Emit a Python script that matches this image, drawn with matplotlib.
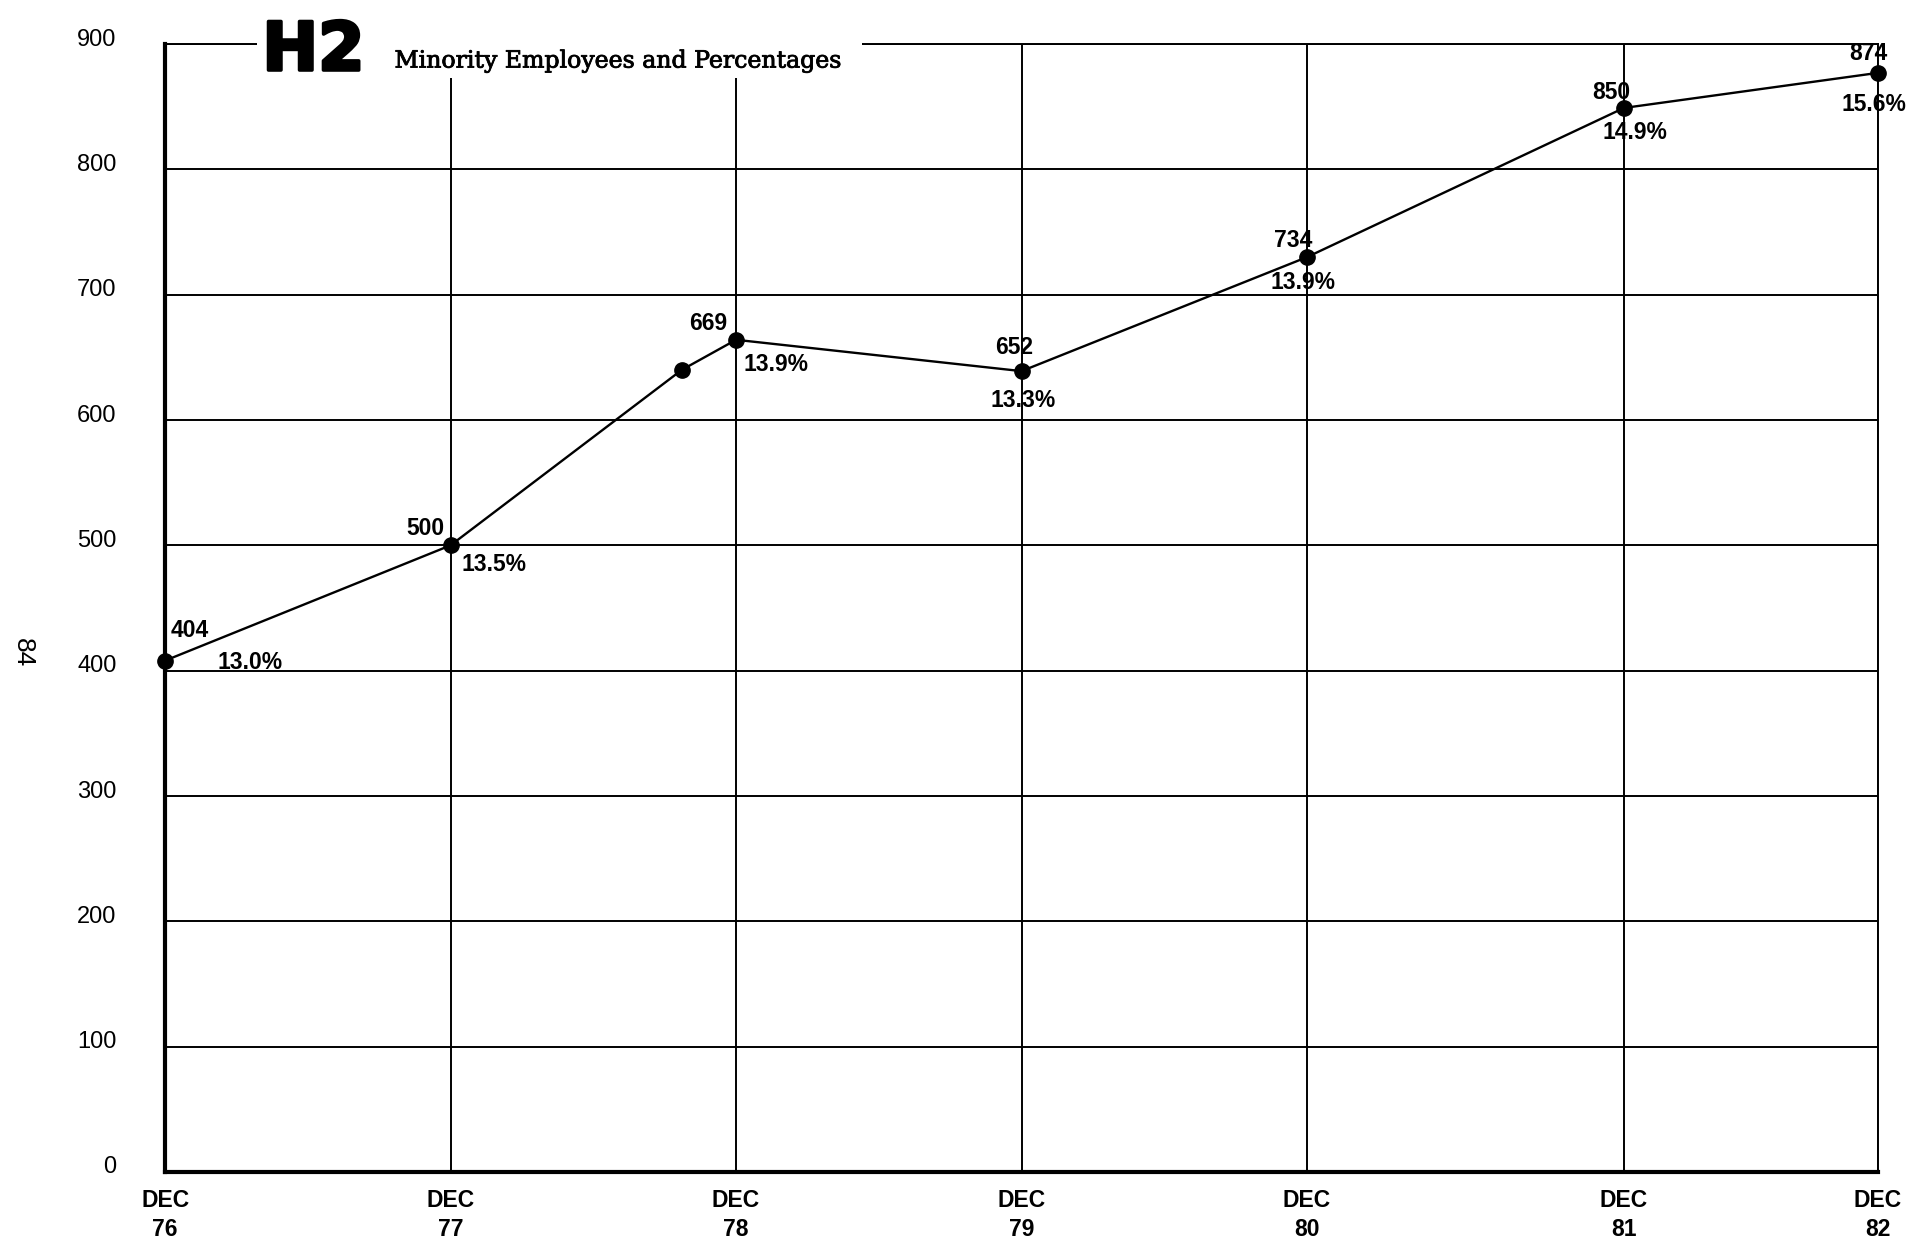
import matplotlib
matplotlib.use("Agg")
import matplotlib.pyplot as plt
import matplotlib.transforms as mtransforms
import matplotlib.patheffects as pe
from matplotlib.patches import Rectangle

# data
tick_pos = [0, 1, 2, 3, 4, 5.11, 6]
tick_labels = ["DEC\n76", "DEC\n77", "DEC\n78", "DEC\n79", "DEC\n80", "DEC\n81", "DEC\n82"]

# heights as drawn on the grid (the printed numbers are in num_labels)
point_x = [0, 1, 1.81, 2, 3, 4, 5.11, 6]
employees = [408, 500, 640, 664, 639, 730, 849, 877]
num_labels = ["404", "500", None, "669", "652", "734", "850", "874"]
pct_labels = ["13.0%", "13.5%", None, "13.9%", "13.3%", "13.9%", "14.9%", "15.6%"]

# label offsets in points (count label, percent label)
num_off = [(18, 22), (-18, 12), None, (-20, 12), (-5, 17), (-10, 12), (-9, 11), (-7, 14)]
pct_off = [(61, -1), (31, -14), None, (29, -18), (1, -21), (-3, -18), (8, -18), (-3, -23)]

fig = plt.figure(figsize=(19.15, 12.51), dpi=100)
ax = fig.add_axes([0.0862, 0.0632, 0.8945, 0.9016])

ax.plot(point_x, employees, color="black", lw=1.7, marker="o", markersize=11,
        zorder=3, clip_on=False)

for x, y, n, p, no, po in zip(point_x, employees, num_labels, pct_labels, num_off, pct_off):
    if n is None:
        continue
    ax.annotate(n, (x, y), xytext=no, textcoords="offset points", ha="center", va="center",
                fontsize=16.5, fontweight="bold", family="Liberation Sans")
    ax.annotate(p, (x, y), xytext=po, textcoords="offset points", ha="center", va="center",
                fontsize=16.5, fontweight="bold", family="Liberation Sans")

ax.set_xlim(0, 6)
ax.set_ylim(0, 900)
ax.set_yticks(range(0, 1000, 100))
ax.set_xticks(tick_pos)
ax.set_xticklabels(tick_labels, fontsize=16.5, fontweight="bold", family="Liberation Sans",
                   linespacing=1.35)
ax.tick_params(length=0)
ax.tick_params(axis="y", pad=35, labelsize=17)
ax.tick_params(axis="x", pad=12)

offset = mtransforms.ScaledTranslation(0, 5 / 72, fig.dpi_scale_trans)
for lab in ax.get_yticklabels():
    lab.set_family("Liberation Sans")
    lab.set_transform(lab.get_transform() + offset)

ax.grid(True, color="black", lw=1.4)
ax.set_axisbelow(True)
for side in ["left", "bottom"]:
    ax.spines[side].set_linewidth(3)
for side in ["top", "right"]:
    ax.spines[side].set_linewidth(1.4)

# white patch behind the title, cutting the top frame line
fig.patches.append(Rectangle((0.134, 0.938), 0.316, 0.07, transform=fig.transFigure,
                             facecolor="white", edgecolor="none", zorder=5))
fig.text(0.137, 0.944, "H2", fontsize=48, fontweight="bold", family="DejaVu Sans",
         va="baseline", zorder=6,
         path_effects=[pe.withStroke(linewidth=2.5, foreground="black")])
fig.text(0.206, 0.946, "Minority Employees and Percentages", fontsize=17,
         family="DejaVu Serif", va="baseline", zorder=6,
         path_effects=[pe.withStroke(linewidth=0.6, foreground="black")])

fig.text(0.012, 0.478, "84", fontsize=19, rotation=270, ha="center", va="center",
         family="Liberation Sans")

plt.savefig("out.png", dpi=100)
